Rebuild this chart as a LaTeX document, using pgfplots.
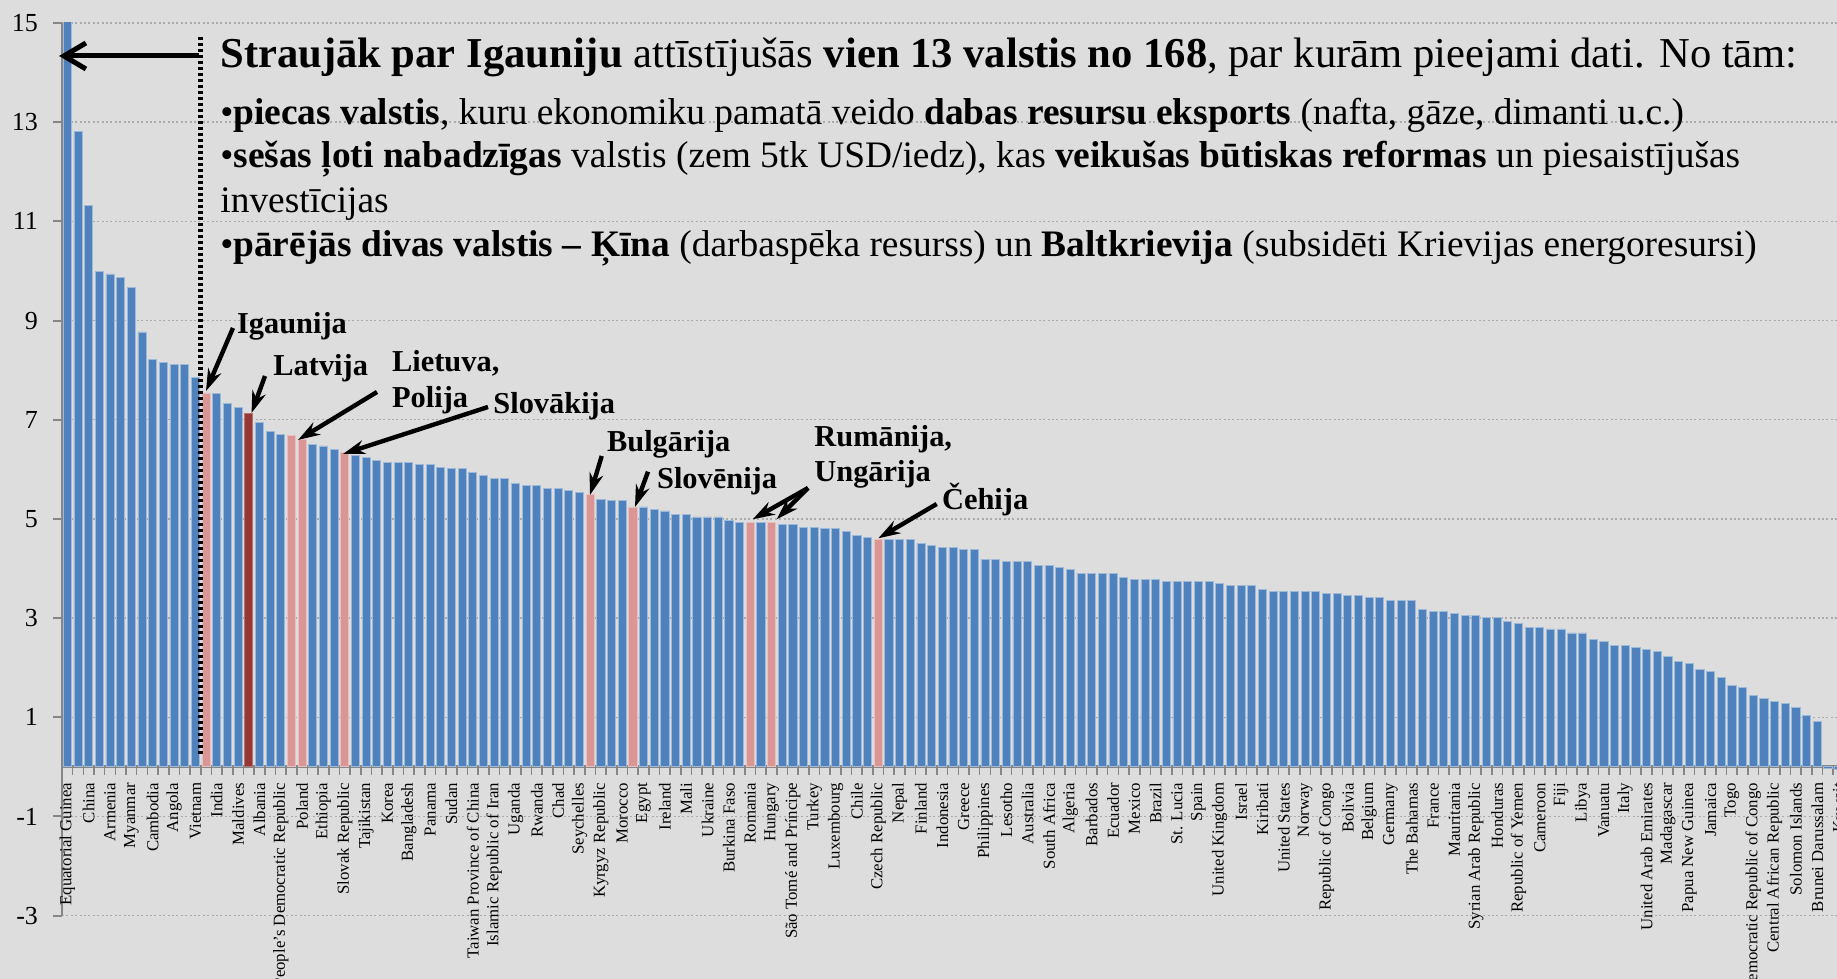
\documentclass[border=0pt]{standalone}
\usepackage{fontspec}
\setmainfont{Liberation Serif}
\usepackage{pgfplots}
\pgfplotsset{compat=1.18}
\usetikzlibrary{arrows.meta}
\definecolor{bg}{HTML}{DDDDDD}
\definecolor{barblue}{HTML}{4F81BD}
\definecolor{barpink}{HTML}{D99694}
\definecolor{barred}{HTML}{953735}
\definecolor{axisgray}{HTML}{868686}
\definecolor{gridgray}{HTML}{AAAAAA}
\begin{document}
\begin{tikzpicture}[x=0.5pt,y=0.5pt]
\fill[bg] (0,0) rectangle (1837,979);
\begin{axis}[
  at={(31pt,31.7pt)}, anchor=south west,
  scale only axis, width=896.3pt, height=446.3pt,
  xmin=0.5, xmax=168.5, ymin=-3, ymax=15,
  enlargelimits=false,
  axis x line=middle, axis y line=left,
  axis line style={-, draw=axisgray, line width=1.4pt},
  ytick={-3,-1,...,15},
  ymajorgrids,
  grid style={draw=gridgray, line width=0.7pt, dash pattern=on 1pt off 1.2pt},
  tick align=outside,
  major tick length=4.5pt,
  ytick style={draw=axisgray, line width=1pt},
  xtick style={draw=none},
  yticklabel style={font=\fontsize{13}{13}\selectfont, text=black, xshift=-4pt},
  /pgf/number format/assume math mode=true,
  xtick={1,3,...,167},
  xticklabels={Equatorial Guinea,China,Armenia,Myanmar,Cambodia,Angola,Vietnam,India,Maldives,Albania,Lao People's Democratic Republic,Poland,Ethiopia,Slovak Republic,Tajikistan,Korea,Bangladesh,Panama,Sudan,Taiwan Province of China,Islamic Republic of Iran,Uganda,Rwanda,Chad,Seychelles,Kyrgyz Republic,Morocco,Egypt,Ireland,Mali,Ukraine,Burkina Faso,Romania,Hungary,São Tomé and Príncipe,Turkey,Luxembourg,Chile,Czech Republic,Nepal,Finland,Indonesia,Greece,Philippines,Lesotho,Australia,South Africa,Algeria,Barbados,Ecuador,Mexico,Brazil,St. Lucia,Spain,United Kingdom,Israel,Kiribati,United States,Norway,Republic of Congo,Bolivia,Belgium,Germany,The Bahamas,France,Mauritania,Syrian Arab Republic,Honduras,Republic of Yemen,Cameroon,Fiji,Libya,Vanuatu,Italy,United Arab Emirates,Madagascar,Papua New Guinea,Jamaica,Togo,Democratic Republic of Congo,Central African Republic,Solomon Islands,Brunei Darussalam,Kuwait},
  xticklabel style={rotate=90, anchor=east, font=\fontsize{8.4}{9}\selectfont, text=black},
  extra x ticks={1.5,2.5,...,167.5},
  extra x tick labels={},
  extra x tick style={xtick style={draw=axisgray, line width=0.8pt}, major tick length=4pt, grid=none},
  ybar, bar width=0.76,
]
\addplot[bar shift=0pt, fill=barblue, draw=barblue!55!white, line width=0.4pt] coordinates {
(1,17.5)(2,12.81)(3,11.32)(4,9.99)(5,9.94)(6,9.86)(7,9.66)(8,8.77)(9,8.21)(10,8.16)(11,8.12)(12,8.12)(13,7.86)
(15,7.53)(16,7.32)(17,7.24)
(19,6.95)(20,6.76)(21,6.71)
(24,6.51)(25,6.47)(26,6.40)
(28,6.28)(29,6.23)(30,6.18)(31,6.13)(32,6.13)(33,6.13)(34,6.09)(35,6.09)(36,6.04)(37,6.01)(38,6.01)(39,5.93)(40,5.88)(41,5.81)(42,5.81)(43,5.72)(44,5.68)(45,5.68)(46,5.61)(47,5.61)(48,5.57)(49,5.53)
(51,5.40)(52,5.37)(53,5.37)
(55,5.24)(56,5.19)(57,5.16)(58,5.09)(59,5.09)(60,5.04)(61,5.04)(62,5.04)(63,4.97)(64,4.92)
(66,4.92)
(68,4.88)(69,4.88)(70,4.83)(71,4.83)(72,4.80)(73,4.80)(74,4.75)(75,4.67)(76,4.63)
(78,4.59)(79,4.59)(80,4.59)(81,4.51)(82,4.47)(83,4.42)(84,4.42)(85,4.39)(86,4.39)(87,4.19)(88,4.19)(89,4.14)(90,4.14)(91,4.14)(92,4.06)(93,4.06)(94,4.02)(95,3.98)(96,3.90)(97,3.90)(98,3.90)(99,3.90)(100,3.82)
(101,3.77)(102,3.77)(103,3.77)(104,3.74)(105,3.74)(106,3.74)(107,3.74)(108,3.74)(109,3.70)(110,3.66)(111,3.66)(112,3.66)(113,3.58)(114,3.54)(115,3.54)(116,3.54)(117,3.54)(118,3.54)(119,3.50)(120,3.50)
(121,3.45)(122,3.45)(123,3.42)(124,3.42)(125,3.35)(126,3.35)(127,3.35)(128,3.18)(129,3.13)(130,3.13)(131,3.09)(132,3.05)(133,3.05)(134,3.02)(135,3.02)(136,2.93)(137,2.90)(138,2.81)(139,2.81)(140,2.78)
(141,2.78)(142,2.70)(143,2.70)(144,2.57)(145,2.53)(146,2.44)(147,2.44)(148,2.41)(149,2.37)(150,2.33)(151,2.22)(152,2.13)(153,2.08)(154,1.97)(155,1.93)(156,1.80)(157,1.65)(158,1.60)(159,1.44)(160,1.37)
(161,1.31)(162,1.28)(163,1.20)(164,1.04)(165,0.92)(166,-0.04)(167,-0.05)
};
\addplot[bar shift=0pt, fill=barpink, draw=barpink!60!white, line width=0.4pt] coordinates {
(14,7.54)(22,6.68)(23,6.60)(27,6.34)(50,5.50)(54,5.24)(65,4.92)(67,4.92)(77,4.59)
};
\addplot[bar shift=0pt, fill=barred, draw=barred!70!white, line width=0.4pt] coordinates {
(18,7.12)
};
\end{axis}
% dotted separator and arrow to the left
\draw[line width=2.5pt, dash pattern=on 1.5pt off 1.5pt] (200,942) -- (200,223);
\draw[line width=2.5pt, -{Straight Barb[length=11pt,width=13pt]}] (199,923) -- (59,923);
% text block
\node[anchor=base west, inner sep=0, font=\fontsize{21.3}{22}\selectfont] at (220,911)
  {\textbf{Straujāk par Igauniju} attīstījušās \textbf{vien 13 valstis no 168}, par kurām pieejami dati. No tām:};
\node[anchor=base west, inner sep=0, font=\fontsize{18.7}{20}\selectfont] at (220,854)
  {•\textbf{piecas valstis}, kuru ekonomiku pamatā veido \textbf{dabas resursu eksports} (nafta, gāze, dimanti u.c.)};
\node[anchor=base west, inner sep=0, font=\fontsize{18.7}{20}\selectfont] at (220,811)
  {•\textbf{sešas ļoti nabadzīgas} valstis (zem 5tk USD/iedz), kas \textbf{veikušas būtiskas reformas} un piesaistījušas};
\node[anchor=base west, inner sep=0, font=\fontsize{18.7}{20}\selectfont] at (220,766)
  {investīcijas};
\node[anchor=base west, inner sep=0, font=\fontsize{18.7}{20}\selectfont] at (220,722)
  {•\textbf{pārējās divas valstis –} \textbf{Ķīna} (darbaspēka resurss) un \textbf{Baltkrievija} (subsidēti Krievijas energoresursi)};
% country annotations
\begin{scope}[line width=2.2pt, -{Stealth[length=11pt,width=7pt]}]
\draw (233,651) -- (206,588);
\draw (265,603) -- (251.5,566);
\draw (377,587) -- (298,539);
\draw (488,572) -- (343,525);
\draw (601.7,523) -- (590,484);
\draw (648,507.3) -- (635,472);
\draw (808,491) -- (752.7,459.7);
\draw (808,491) -- (776.7,459.7);
\draw (936.7,475) -- (878.3,440.7);
\end{scope}
\begin{scope}[every node/.style={anchor=base west, inner sep=0, font=\fontsize{15.2}{16}\selectfont\bfseries}]
\node at (236.7,645) {Igaunija};
\node at (273,603) {Latvija};
\node at (391.7,607.3) {Lietuva,};
\node at (391.7,571.7) {Polija};
\node at (493,565.7) {Slovākija};
\node at (606.7,527.3) {Bulgārija};
\node at (656.7,490.7) {Slovēnija};
\node at (814,532.3) {Rumānija,};
\node at (814,497.3) {Ungārija};
\node at (941.7,469) {Čehija};
\end{scope}
\pgfresetboundingbox
\path[use as bounding box] (0,0) rectangle (1837,979);
\end{tikzpicture}
\end{document}
